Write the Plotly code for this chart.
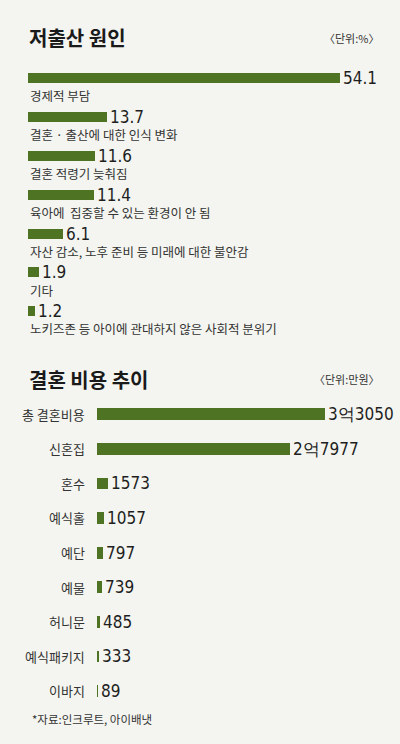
import plotly.graph_objects as go

# ---- data ----
cause_labels = ["경제적 부담", "결혼 · 출산에 대한 인식 변화", "결혼 적령기 늦춰짐",
                "육아에  집중할 수 있는 환경이 안 됨", "자산 감소, 노후 준비 등 미래에 대한 불안감",
                "기타", "노키즈존 등 아이에 관대하지 않은 사회적 분위기"]
cause_values = [54.1, 13.7, 11.6, 11.4, 6.1, 1.9, 1.2]

cost_labels = ["총 결혼비용", "신혼집", "혼수", "예식홀", "예단", "예물", "허니문", "예식패키지", "이바지"]
cost_values = [33050, 27977, 1573, 1057, 797, 739, 485, 333, 89]

title1 = "저출산 원인"
unit1 = "〈단위:%〉"
title2 = "결혼 비용 추이"
unit2 = "〈단위:만원〉"
source = "*자료:인크루트, 아이배냇"

# ---- style ----
BG = "#f4f5f0"
GREEN = "#4e7322"
KFONT = "Noto Sans CJK KR"
NUMFONT = "DejaVu Sans Condensed, Liberation Sans Narrow, Liberation Sans, Arial"
W, H = 400, 744


def py(p):
    return 1 - p / H


def fmt_won(v):
    if v >= 10000:
        return f"{v // 10000}억{v % 10000}"
    return f"{v}"


fig = go.Figure()

fig.add_trace(go.Bar(
    x=cause_values, y=list(range(len(cause_values))), orientation="h",
    marker=dict(color=GREEN, line=dict(width=0)), width=0.26,
    text=[f"{v:.1f}" for v in cause_values], textposition="outside",
    outsidetextfont=dict(family=NUMFONT, size=17, color="#1e1e1e"),
    constraintext="none", cliponaxis=False, hoverinfo="skip",
    xaxis="x", yaxis="y",
))

fig.add_trace(go.Bar(
    x=cost_values, y=list(range(len(cost_values))), orientation="h",
    marker=dict(color=GREEN, line=dict(width=0)), width=0.34,
    text=[fmt_won(v) for v in cost_values], textposition="outside",
    outsidetextfont=dict(family=NUMFONT, size=17, color="#1e1e1e"),
    constraintext="none", cliponaxis=False, hoverinfo="skip",
    xaxis="x2", yaxis="y2",
))

n1 = len(cause_values)
n2 = len(cost_values)
sp1 = 38.8
top1 = 78 - sp1 / 2
bot1 = top1 + sp1 * n1
sp2 = 34.6
top2 = 414 - sp2 / 2
bot2 = top2 + sp2 * n2

axis_common = dict(showgrid=False, zeroline=False, showticklabels=False, showline=False, ticks="")

annotations = []
for i, lab in enumerate(cause_labels):
    annotations.append(dict(
        x=0, y=i, xref="x", yref="y", text=lab, showarrow=False,
        xanchor="left", yanchor="middle", yshift=-18,
        font=dict(family=KFONT, size=12.5, color="#333333"),
    ))
for i, lab in enumerate(cost_labels):
    annotations.append(dict(
        x=87 / W, y=i, xref="paper", yref="y2", text=lab, showarrow=False,
        xanchor="right", yanchor="middle",
        font=dict(family=KFONT, size=13, color="#333333"),
    ))

annotations += [
    dict(x=27 / W, y=py(38), xref="paper", yref="paper", text=f"<b>{title1}</b>", showarrow=False,
         xanchor="left", yanchor="middle", font=dict(family=KFONT, size=20, color="#1a1a1a")),
    dict(x=381 / W, y=py(38), xref="paper", yref="paper", text=unit1, showarrow=False,
         xanchor="right", yanchor="middle", font=dict(family=KFONT, size=11, color="#333333")),
    dict(x=27 / W, y=py(379), xref="paper", yref="paper", text=f"<b>{title2}</b>", showarrow=False,
         xanchor="left", yanchor="middle", font=dict(family=KFONT, size=20, color="#1a1a1a")),
    dict(x=382 / W, y=py(379), xref="paper", yref="paper", text=unit2, showarrow=False,
         xanchor="right", yanchor="middle", font=dict(family=KFONT, size=11, color="#333333")),
    dict(x=30 / W, y=py(719), xref="paper", yref="paper", text=source, showarrow=False,
         xanchor="left", yanchor="middle", font=dict(family=KFONT, size=11.5, color="#333333")),
]

px1 = 312 / 54.1
px2 = 228 / 33050
fig.update_layout(
    width=W, height=H, margin=dict(l=0, r=0, t=0, b=0),
    paper_bgcolor=BG, plot_bgcolor=BG, showlegend=False,
    xaxis=dict(domain=[28 / W, (28 + 60 * px1) / W], range=[0, 60], anchor="y", **axis_common),
    yaxis=dict(domain=[py(bot1), py(top1)], range=[n1 - 0.5, -0.5], anchor="x", **axis_common),
    xaxis2=dict(domain=[97 / W, (97 + 36000 * px2) / W], range=[0, 36000], anchor="y2", **axis_common),
    yaxis2=dict(domain=[py(bot2), py(top2)], range=[n2 - 0.5, -0.5], anchor="x2", **axis_common),
    annotations=annotations,
    bargap=0,
)

fig.write_html("out.html")
